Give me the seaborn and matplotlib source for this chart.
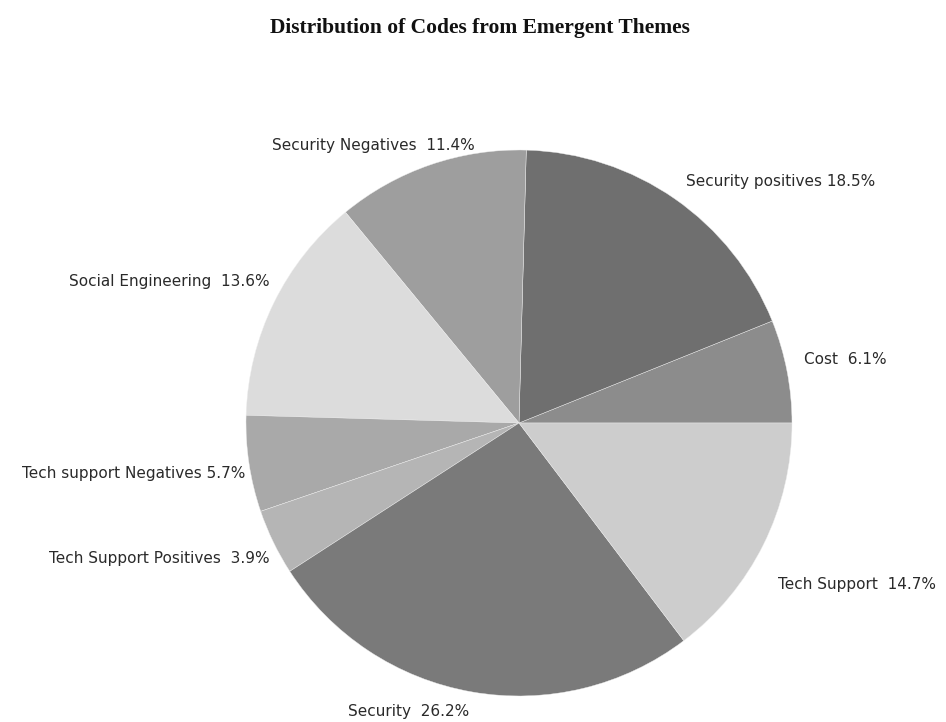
import numpy as np
import matplotlib
matplotlib.use("Agg")
import matplotlib.pyplot as plt
import seaborn as sns

# ---- data ----
categories = ["Cost", "Security positives", "Security Negatives", "Social Engineering",
              "Tech support Negatives", "Tech Support Positives", "Security", "Tech Support"]
label_texts = ["Cost  6.1%", "Security positives 18.5%", "Security Negatives  11.4%",
               "Social Engineering  13.6%", "Tech support Negatives 5.7%",
               "Tech Support Positives  3.9%", "Security  26.2%", "Tech Support  14.7%"]
values = [6.1, 18.5, 11.4, 13.6, 5.7, 3.9, 26.2, 14.7]
colors = ["#8c8c8c", "#6f6f6f", "#9e9e9e", "#dcdcdc", "#a9a9a9", "#b5b5b5", "#7a7a7a", "#cdcdcd"]

# label placement (polar angle offset from wedge middle in degrees, radius, alignment)
label_angle_shift = [1.5, 0.0, -10.0, -3.5, 1.8, 2.5, -11.0, -5.5]
label_radius = [1.07, 1.075, 1.03, 1.05, 1.02, 1.04, 1.13, 1.12]
label_ha = ["left", "left", "right", "right", "right", "right", "center", "left"]

sns.set_theme(style="white")
plt.rcParams["font.family"] = ["DejaVu Sans"]

fig = plt.figure(figsize=(9.46, 7.22), dpi=100)
W, H = 946, 722
cx, cy, R = 519, 423, 273
ax = fig.add_axes([(cx - R) / W, (H - cy - R) / H, 2 * R / W, 2 * R / H])

wedges, _ = ax.pie(values, colors=colors, startangle=0, counterclock=True,
                   wedgeprops=dict(linewidth=0.3, edgecolor="#eeeeee"), radius=1.0)
ax.set_xlim(-1, 1)
ax.set_ylim(-1, 1)
ax.set_aspect("auto")
ax.axis("off")

for w, txt, sh, r, ha in zip(wedges, label_texts, label_angle_shift, label_radius, label_ha):
    mid = np.deg2rad((w.theta1 + w.theta2) / 2 + sh)
    ax.text(r * np.cos(mid), r * np.sin(mid), txt, ha=ha, va="center",
            fontsize=11, color="#2a2a2a", clip_on=False)

fig.text(480 / W, 1 - 28 / H, "Distribution of Codes from Emergent Themes",
         ha="center", va="center", fontsize=15.5, fontweight="bold",
         family=["Liberation Serif", "DejaVu Serif"], color="#111111")

fig.savefig("out.png", dpi=100, facecolor="white")
